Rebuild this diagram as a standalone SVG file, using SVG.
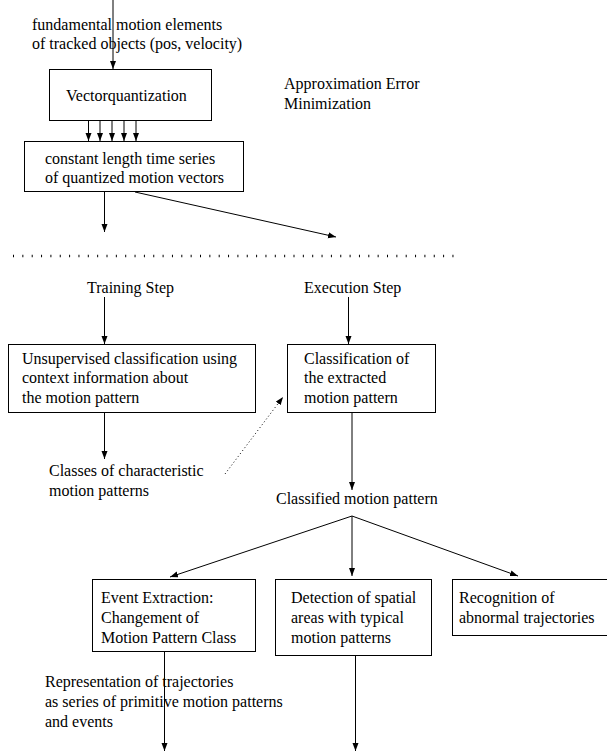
<svg xmlns="http://www.w3.org/2000/svg" width="607" height="752" viewBox="0 0 607 752">
<style>
text{font-family:"Liberation Serif","Times New Roman",serif;font-size:16px;fill:#000}
.box{fill:#fff;stroke:#000;stroke-width:1}
.ln{fill:none;stroke:#000;stroke-width:1}
.arr{marker-end:url(#ah)}
.dot{fill:none;stroke:#000;stroke-width:1;stroke-dasharray:1 2.6}
</style>
<defs>
<marker id="ah" markerUnits="userSpaceOnUse" markerWidth="9" markerHeight="7" refX="8" refY="3" orient="auto">
<path d="M0,0 L8,3 L0,6 z" fill="#000"/>
</marker>
</defs>
<g id="connectors">
<line class="ln arr" x1="113" y1="0" x2="113" y2="69"/>
<line class="ln arr" x1="88.5" y1="121" x2="88.5" y2="141"/>
<line class="ln arr" x1="100" y1="121" x2="100" y2="141"/>
<line class="ln arr" x1="112" y1="121" x2="112" y2="141"/>
<line class="ln arr" x1="124" y1="121" x2="124" y2="141"/>
<line class="ln arr" x1="136" y1="121" x2="136" y2="141"/>
<line class="ln arr" x1="104.5" y1="192" x2="104.5" y2="232"/>
<line class="ln arr" x1="135" y1="192" x2="336" y2="237"/>
<line x1="13" y1="256" x2="455" y2="256" style="stroke:#000;stroke-width:2.5;stroke-dasharray:1 8.35"/>
<line class="ln arr" x1="104.5" y1="297" x2="104.5" y2="344"/>
<line class="ln arr" x1="348.5" y1="297" x2="348.5" y2="344"/>
<line class="ln arr" x1="104.5" y1="412" x2="104.5" y2="459"/>
<line class="dot arr" x1="225" y1="474" x2="283" y2="397"/>
<line class="ln arr" x1="352" y1="412" x2="352" y2="490"/>
<line class="ln arr" x1="352" y1="516" x2="170" y2="577"/>
<line class="ln arr" x1="352" y1="516" x2="352" y2="576"/>
<line class="ln arr" x1="352" y1="516" x2="518" y2="576"/>
<line class="ln arr" x1="164.5" y1="651" x2="164.5" y2="751"/>
<line class="ln arr" x1="355.5" y1="655" x2="355.5" y2="751"/>
</g>
<g id="input-label">
<text x="32" y="30">fundamental motion elements</text>
<text x="32" y="49">of tracked objects (pos, velocity)</text>
</g>
<g id="vq">
<rect class="box" x="49.5" y="69.5" width="162" height="51"/>
<text x="66" y="101">Vectorquantization</text>
</g>
<g id="timeseries">
<rect class="box" x="24.5" y="141.5" width="219" height="50"/>
<text x="45" y="164">constant length time series</text>
<text x="45" y="183">of quantized motion vectors</text>
</g>
<g id="approx">
<text x="284" y="89">Approximation Error</text>
<text x="284" y="109">Minimization</text>
</g>
<g id="training-step">
<text x="87" y="293">Training Step</text>
</g>
<g id="execution-step">
<text x="304" y="293">Execution Step</text>
</g>
<g id="unsupervised">
<rect class="box" x="8.5" y="344.5" width="247" height="68"/>
<text x="22" y="364">Unsupervised classification using</text>
<text x="22" y="383">context information about</text>
<text x="22" y="403">the motion pattern</text>
</g>
<g id="classification">
<rect class="box" x="287.5" y="344.5" width="148" height="68"/>
<text x="304" y="364">Classification of</text>
<text x="304" y="383">the extracted</text>
<text x="304" y="403">motion pattern</text>
</g>
<g id="classes">
<text x="49" y="476">Classes of characteristic</text>
<text x="49" y="496">motion patterns</text>
</g>
<g id="classified">
<text x="276" y="504">Classified motion pattern</text>
</g>
<g id="event">
<rect class="box" x="92.5" y="579.5" width="163" height="72"/>
<text x="101" y="603">Event Extraction:</text>
<text x="101" y="623">Changement of</text>
<text x="101" y="643">Motion Pattern Class</text>
</g>
<g id="detection">
<rect class="box" x="275.5" y="579.5" width="156" height="76"/>
<text x="291" y="603">Detection of spatial</text>
<text x="291" y="623">areas with typical</text>
<text x="291" y="643">motion patterns</text>
</g>
<g id="recognition">
<rect class="box" x="452.5" y="579.5" width="160" height="56"/>
<text x="459" y="603">Recognition of</text>
<text x="459" y="623">abnormal trajectories</text>
</g>
<g id="representation">
<text x="45" y="687">Representation of trajectories</text>
<text x="45" y="707">as series of primitive motion patterns</text>
<text x="45" y="727">and events</text>
</g>
</svg>
